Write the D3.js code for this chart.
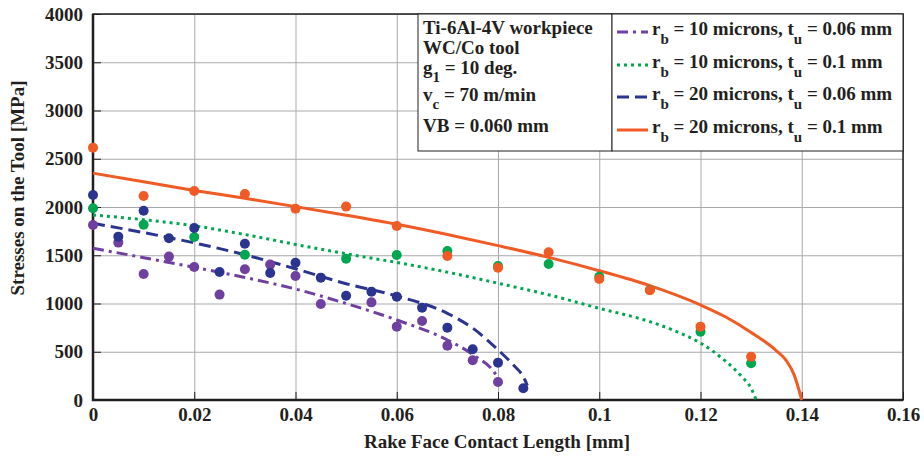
<!DOCTYPE html>
<html>
<head>
<meta charset="utf-8">
<script src="https://cdn.jsdelivr.net/npm/d3@7"></script>
<style>
    body { margin: 0; background: #fff; }
    text { font-family: "Liberation Serif", "Times New Roman", serif; font-weight: bold; fill: #231f20; }
</style>
</head>
<body>
<div id="chart"></div>
<script>
// tick values
const xTicks = [0, 0.02, 0.04, 0.06, 0.08, 0.1, 0.12, 0.14, 0.16];
const yTicks = [0, 500, 1000, 1500, 2000, 2500, 3000, 3500, 4000];

// measured points (x in mm, stress in MPa)
const purpleDotsX = [0, 0.005, 0.01, 0.015, 0.02, 0.025, 0.03, 0.035, 0.04, 0.045, 0.055, 0.06, 0.065, 0.07, 0.075, 0.08];
const purpleDotsY = [1814, 1631, 1306, 1486, 1379, 1092, 1354, 1403, 1285, 995, 1012, 760, 819, 563, 411, 187];
const greenDotsX = [0, 0.01, 0.02, 0.03, 0.05, 0.06, 0.07, 0.08, 0.09, 0.1, 0.11, 0.12, 0.13];
const greenDotsY = [1987, 1817, 1690, 1506, 1465, 1503, 1544, 1389, 1410, 1278, 1140, 708, 380];
const blueDotsX = [0, 0.005, 0.01, 0.015, 0.02, 0.025, 0.03, 0.035, 0.04, 0.045, 0.05, 0.055, 0.06, 0.065, 0.07, 0.075, 0.08, 0.085];
const blueDotsY = [2125, 1693, 1962, 1676, 1783, 1327, 1620, 1316, 1423, 1268, 1081, 1123, 1071, 957, 750, 525, 387, 121];
const orangeDotsX = [0, 0.01, 0.02, 0.03, 0.04, 0.05, 0.06, 0.07, 0.08, 0.09, 0.1, 0.11, 0.12, 0.13];
const orangeDotsY = [2615, 2114, 2166, 2135, 1983, 2004, 1803, 1493, 1371, 1531, 1254, 1137, 760, 449];

// model curves
const purpleLineX = [0, 0.01, 0.02, 0.03, 0.04, 0.05, 0.06, 0.07, 0.075, 0.08, 0.0805];
const purpleLineY = [1572, 1475, 1375, 1270, 1150, 1000, 829, 622, 470, 225, 170];
const greenLineX = [0, 0.01, 0.02, 0.03, 0.04, 0.05, 0.06, 0.07, 0.08, 0.09, 0.1, 0.11, 0.115, 0.12, 0.125, 0.128, 0.13, 0.131];
const greenLineY = [1917, 1868, 1805, 1715, 1612, 1515, 1425, 1325, 1210, 1090, 950, 812, 715, 590, 400, 250, 120, 0];
const blueLineX = [0, 0.01, 0.02, 0.03, 0.04, 0.05, 0.06, 0.07, 0.075, 0.08, 0.083, 0.085, 0.0858];
const blueLineY = [1831, 1735, 1628, 1505, 1360, 1205, 1078, 898, 745, 520, 365, 240, 150];
const orangeLineX = [0, 0.01, 0.02, 0.03, 0.04, 0.05, 0.06, 0.07, 0.08, 0.09, 0.1, 0.11, 0.12, 0.125, 0.13, 0.135, 0.137, 0.1385, 0.14];
const orangeLineY = [2350, 2262, 2172, 2090, 2004, 1915, 1821, 1715, 1600, 1478, 1340, 1185, 985, 860, 700, 510, 405, 260, 0];

const annotation = ["Ti-6Al-4V workpiece", "WC/Co tool", ["g", "1", " = 10 deg."], ["v", "c", " = 70 m/min"], "VB = 0.060 mm"];
const legendRb = ["10", "10", "20", "20"];
const legendTu = ["0.06", "0.1", "0.06", "0.1"];

const series = [
    { dx: purpleDotsX, dy: purpleDotsY, lx: purpleLineX, ly: purpleLineY, color: "#7040a0", dash: "11,5,3,5" },
    { dx: greenDotsX, dy: greenDotsY, lx: greenLineX, ly: greenLineY, color: "#00a650", dash: "3,4" },
    { dx: blueDotsX, dy: blueDotsY, lx: blueLineX, ly: blueLineY, color: "#2b3590", dash: "12,6" },
    { dx: orangeDotsX, dy: orangeDotsY, lx: orangeLineX, ly: orangeLineY, color: "#f05a24", dash: null }
];

const margin = { top: 14, right: 21, bottom: 60, left: 93 };
const width = 924 - margin.left - margin.right;
const height = 460 - margin.top - margin.bottom;
const fontSize = "19px";

const svg = d3.select("#chart").append("svg")
    .attr("width", 924)
    .attr("height", 460);

const g = svg.append("g")
    .attr("transform", `translate(${margin.left},${margin.top})`);

const x = d3.scaleLinear().domain([0, 0.16]).range([0, width]);
const y = d3.scaleLinear().domain([0, 4000]).range([height, 0]);

// grid
g.append("g")
    .attr("transform", `translate(0,${height})`)
    .call(d3.axisBottom(x).tickValues(xTicks).tickSize(-height).tickFormat(""))
    .call(a => a.select(".domain").remove())
    .call(a => a.selectAll("line").attr("stroke", "#a7a9ac").attr("stroke-width", 1));
g.append("g")
    .call(d3.axisLeft(y).tickValues(yTicks).tickSize(-width).tickFormat(""))
    .call(a => a.select(".domain").remove())
    .call(a => a.selectAll("line").attr("stroke", "#a7a9ac").attr("stroke-width", 1));

// inward ticks
g.append("g")
    .attr("transform", `translate(0,${height})`)
    .call(d3.axisBottom(x).tickValues(xTicks).tickSize(-8).tickFormat(""))
    .call(a => a.select(".domain").remove())
    .call(a => a.selectAll("line").attr("stroke", "#231f20"));
g.append("g")
    .call(d3.axisLeft(y).tickValues(yTicks).tickSize(-8).tickFormat(""))
    .call(a => a.select(".domain").remove())
    .call(a => a.selectAll("line").attr("stroke", "#231f20"));

// tick labels
g.append("g")
    .attr("transform", `translate(0,${height})`)
    .call(d3.axisBottom(x).tickValues(xTicks).tickSize(0).tickPadding(8).tickFormat(d => d === 0 ? "0" : d3.format("~g")(d)))
    .call(a => a.select(".domain").remove())
    .call(a => a.selectAll("text").style("font-size", fontSize).style("font-family", "'Liberation Serif', serif").style("font-weight", "bold").attr("fill", "#231f20"));
g.append("g")
    .call(d3.axisLeft(y).tickValues(yTicks).tickSize(0).tickPadding(10).tickFormat(d3.format("d")))
    .call(a => a.select(".domain").remove())
    .call(a => a.selectAll("text").style("font-size", fontSize).style("font-family", "'Liberation Serif', serif").style("font-weight", "bold").attr("fill", "#231f20"));

// frame
g.append("rect")
    .attr("width", width)
    .attr("height", height)
    .attr("fill", "none")
    .attr("stroke", "#231f20")
    .attr("stroke-width", 1.5);
g.append("path")
    .attr("d", `M0,0V${height}H${width}`)
    .attr("fill", "none")
    .attr("stroke", "#231f20")
    .attr("stroke-width", 2.5);

// curves and points
const line = d3.line().x(d => x(d[0])).y(d => y(d[1])).curve(d3.curveMonotoneX);

series.forEach(s => {
    g.append("path")
        .datum(d3.zip(s.lx, s.ly))
        .attr("d", line)
        .attr("fill", "none")
        .attr("stroke", s.color)
        .attr("stroke-width", 3)
        .attr("stroke-dasharray", s.dash);
});
series.forEach(s => {
    g.selectAll(null)
        .data(d3.zip(s.dx, s.dy))
        .enter().append("circle")
        .attr("cx", d => x(d[0]))
        .attr("cy", d => y(d[1]))
        .attr("r", 5)
        .attr("fill", s.color);
});

// annotation box
const ann = svg.append("g");
ann.append("rect")
    .attr("x", 418).attr("y", 14)
    .attr("width", 194).attr("height", 137)
    .attr("fill", "#fff").attr("stroke", "#231f20").attr("stroke-width", 1);
const annY = [34, 54, 74, 101, 132];
annotation.forEach((t, i) => {
    const txt = ann.append("text")
        .attr("x", 423)
        .attr("y", annY[i])
        .style("font-size", fontSize);
    if (typeof t === "string") {
        txt.text(t);
    } else {
        txt.append("tspan").text(t[0]);
        txt.append("tspan").attr("dy", 8).style("font-size", "15px").text(t[1]);
        txt.append("tspan").attr("dy", -8).text(t[2]);
    }
});

// legend box
const leg = svg.append("g");
leg.append("rect")
    .attr("x", 612).attr("y", 14)
    .attr("width", 291).attr("height", 137)
    .attr("fill", "#fff").attr("stroke", "#231f20").attr("stroke-width", 1);
const legY = [35, 68, 100, 133];
series.forEach((s, i) => {
    leg.append("line")
        .attr("x1", 617).attr("x2", 648)
        .attr("y1", legY[i] - 3).attr("y2", legY[i] - 3)
        .attr("stroke", s.color)
        .attr("stroke-width", 3)
        .attr("stroke-dasharray", s.dash);
    const txt = leg.append("text")
        .attr("x", 652)
        .attr("y", legY[i])
        .style("font-size", fontSize);
    txt.append("tspan").text("r");
    txt.append("tspan").attr("dy", 9).style("font-size", "15px").text("b");
    txt.append("tspan").attr("dy", -9).text(` = ${legendRb[i]} microns, t`);
    txt.append("tspan").attr("dy", 9).style("font-size", "15px").text("u");
    txt.append("tspan").attr("dy", -9).text(` = ${legendTu[i]} mm`);
});

// axis titles
svg.append("text")
    .attr("x", 497)
    .attr("y", 448)
    .attr("text-anchor", "middle")
    .style("font-size", fontSize)
    .text("Rake Face Contact Length [mm]");
svg.append("text")
    .attr("transform", "translate(24,188) rotate(-90)")
    .attr("text-anchor", "middle")
    .style("font-size", fontSize)
    .text("Stresses on the Tool [MPa]");
</script>
</body>
</html>
